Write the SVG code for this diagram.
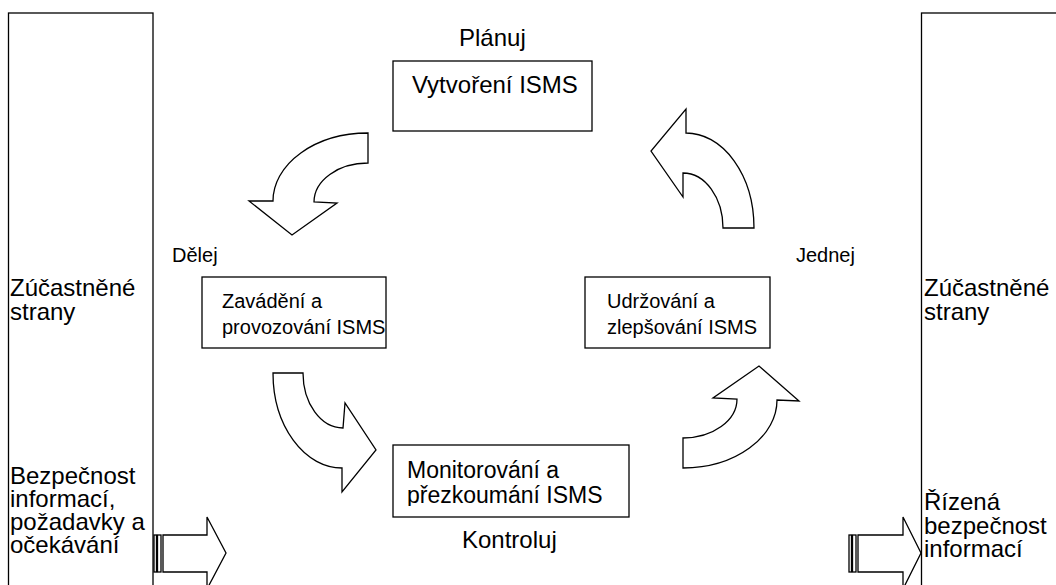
<svg xmlns="http://www.w3.org/2000/svg" width="1056" height="585" viewBox="0 0 1056 585">
<style>
text{font-family:"Liberation Sans",Arial,sans-serif;font-size:24px;fill:#000}
text.sm{font-size:20px}
text.md{font-size:23px}
.box{fill:#fff;stroke:#000;stroke-width:1.3}
.side{fill:#fff;stroke:#000;stroke-width:1.3}
.arr{fill:#fff;stroke:#000;stroke-width:1.3;stroke-linejoin:miter}
</style>
<defs>
<clipPath id="c1"><rect x="202" y="277" width="184" height="62"/></clipPath>
<clipPath id="c2"><rect x="585" y="277" width="185" height="62"/></clipPath>
<clipPath id="c3"><rect x="393" y="445" width="236" height="61"/></clipPath>
</defs>
<g id="left-party">
<rect class="side" x="8.5" y="13" width="144.5" height="600"/>
<text x="10" y="296">Zúčastněné</text>
<text x="10" y="320">strany</text>
<text x="10" y="484">Bezpečnost</text>
<text x="10" y="507">informací,</text>
<text x="10" y="530">požadavky a</text>
<text x="10" y="553">očekávání</text>
</g>
<g id="right-party">
<rect class="side" x="921.5" y="13" width="160" height="600"/>
<text x="924" y="296">Zúčastněné</text>
<text x="924" y="320">strany</text>
<text x="924" y="510">Řízená</text>
<text x="924" y="534">bezpečnost</text>
<text x="924" y="557">informací</text>
</g>
<g id="plan">
<text x="459" y="46">Plánuj</text>
<rect class="box" x="393" y="61" width="199" height="70"/>
<text x="412" y="93">Vytvoření ISMS</text>
</g>
<g id="do">
<text class="sm" x="172" y="262">Dělej</text>
<rect class="box" x="202" y="277" width="184" height="71"/>
<g clip-path="url(#c1)">
<text class="sm" x="222" y="308">Zavádění a</text>
<text class="sm" x="222" y="334">provozování ISMS</text>
</g>
</g>
<g id="act">
<text class="sm" x="796" y="262">Jednej</text>
<rect class="box" x="585" y="277" width="185" height="71"/>
<g clip-path="url(#c2)">
<text class="sm" x="607" y="308">Udržování a</text>
<text class="sm" x="607" y="334">zlepšování ISMS</text>
</g>
</g>
<g id="check">
<rect class="box" x="393" y="445" width="236" height="72"/>
<g clip-path="url(#c3)">
<text class="md" x="407" y="478">Monitorování a</text>
<text class="md" x="407" y="503">přezkoumání ISMS</text>
</g>
<text x="462" y="548">Kontroluj</text>
</g>
<g id="connectors">
<path class="arr" d="M368,133 A95,68 0 0 0 273,201 L249,201 L292,235 L337,203 L314,202 A54,39 0 0 1 368,163 Z"/>
<path class="arr" d="M754,228 L723,228 A40,55 0 0 0 683,173 L683,197 L651,151 L686,109 L686,133 A68,95 0 0 1 754,228 Z"/>
<path class="arr" d="M273,373 L303,373 A40,55 0 0 0 343,428 L345,403 L376,450 L342,492 L342,468 A69,95 0 0 1 273,373 Z"/>
<path class="arr" d="M683,468 L683,438 A54,39 0 0 0 737,399 L713,398 L759,366 L799,401 L777,400 A94,68 0 0 1 683,468 Z"/>
<g id="in-arrow">
<rect class="arr" x="154" y="535" width="2.5" height="37"/>
<rect class="arr" x="157.5" y="535" width="3.5" height="37"/>
<path class="arr" d="M163,535 L207,535 L207,517 L226,553 L207,589 L207,572 L163,572 Z"/>
</g>
<g id="out-arrow">
<rect class="arr" x="849" y="535" width="2.5" height="37"/>
<rect class="arr" x="852.5" y="535" width="3.5" height="37"/>
<path class="arr" d="M858,535 L903,535 L903,517 L921,553 L903,589 L903,572 L858,572 Z"/>
</g>
</g>
</svg>
